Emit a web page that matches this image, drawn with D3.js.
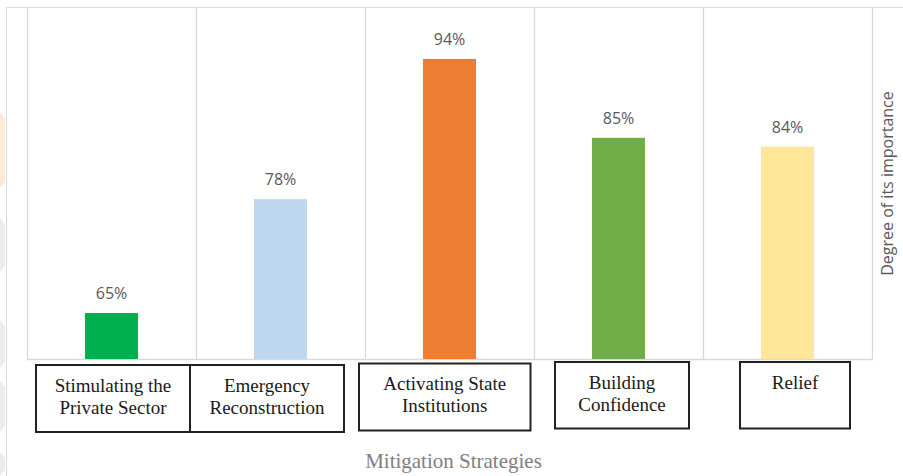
<!DOCTYPE html>
<html>
<head>
<meta charset="utf-8">
<script src="https://cdn.jsdelivr.net/npm/d3@7"></script>
<style>
  html, body { margin: 0; padding: 0; background: #fff; }
  svg { display: block; }
</style>
</head>
<body>
<svg id="chart" width="903" height="476"></svg>
<script>
// ---- data ----
const categories = ["Stimulating the Private Sector", "Emergency Reconstruction", "Activating State Institutions", "Building Confidence", "Relief"];
const categoryLines = [["Stimulating the", "Private Sector"], ["Emergency", "Reconstruction"], ["Activating State", "Institutions"], ["Building", "Confidence"], ["Relief"]];
const values = [65, 78, 94, 85, 84];
const valueLabels = ["65%", "78%", "94%", "85%", "84%"];
const barColors = ["#00B050", "#BDD7EE", "#ED7D31", "#70AD47", "#FFE699"];
const xTitle = "Mitigation Strategies";
const yTitle = "Degree of its importance";

// ---- layout ----
const plot = { left: 27, right: 872, top: 7, bottom: 359 };
const boxes = [
  { x0: 36, x1: 190, y0: 365, y1: 432, base: 392 },
  { x0: 190, x1: 344, y0: 365, y1: 432, base: 392 },
  { x0: 359, x1: 530.5, y0: 363.5, y1: 430.5, base: 390 },
  { x0: 555, x1: 689, y0: 362, y1: 428.5, base: 389.3 },
  { x0: 740, x1: 850, y0: 362, y1: 428.5, base: 389.3 }
];

const svg = d3.select("#chart");

// faint watermark shapes on the far left
const wm = svg.append("g");
wm.append("path").attr("d", "M0,112 L5,118 L5,182 L0,188 Z").attr("fill", "#fde9d6");
[[218, 272], [320, 368], [381, 432], [452, 476]].forEach(([a, b]) => {
  wm.append("path").attr("d", `M0,${a} L5,${a + 6} L5,${b - 6} L0,${b} Z`).attr("fill", "#ececec");
});

// outer chart border
svg.append("rect").attr("x", 6.5).attr("y", 7.5).attr("width", 1000).attr("height", 1000)
  .attr("fill", "none").attr("stroke", "#d9d9d9").attr("stroke-width", 1);

const x = d3.scaleBand().domain(categories).range([plot.left, plot.right])
  .paddingInner(0.686).paddingOuter(0.343);
const y = d3.scaleLinear().domain([59.75, 100]).range([plot.bottom, 6.4]);

// vertical gridlines at category boundaries
const step = x.step();
const bounds = d3.range(categories.length + 1).map(i => plot.left + i * step);
svg.append("g").selectAll("line").data(bounds).join("line")
  .attr("x1", d => Math.round(d) + 0.5).attr("x2", d => Math.round(d) + 0.5)
  .attr("y1", plot.top + 1).attr("y2", plot.bottom)
  .attr("stroke", "#d9d9d9").attr("stroke-width", 1.3);
// baseline
svg.append("line").attr("x1", plot.left).attr("x2", plot.right + 1)
  .attr("y1", plot.bottom + 0.5).attr("y2", plot.bottom + 0.5)
  .attr("stroke", "#d9d9d9").attr("stroke-width", 1.3);

// bars
svg.append("g").selectAll("rect").data(values).join("rect")
  .attr("x", (d, i) => x(categories[i]))
  .attr("width", x.bandwidth())
  .attr("y", d => y(d))
  .attr("height", d => plot.bottom - y(d))
  .attr("fill", (d, i) => barColors[i]);

// value labels
svg.append("g").selectAll("text").data(values).join("text")
  .attr("x", (d, i) => x(categories[i]) + x.bandwidth() / 2)
  .attr("y", d => y(d) - 14)
  .attr("text-anchor", "middle")
  .attr("font-family", "'Open Sans', sans-serif")
  .attr("font-size", 16)
  .attr("fill", "#595959")
  .text((d, i) => valueLabels[i]);

// category boxes
const bg = svg.append("g");
boxes.forEach((b, i) => {
  bg.append("rect").attr("x", b.x0).attr("y", b.y0).attr("width", b.x1 - b.x0).attr("height", b.y1 - b.y0)
    .attr("fill", "#fff").attr("stroke", "#222").attr("stroke-width", 2);
  const t = bg.append("text")
    .attr("text-anchor", "middle")
    .attr("font-family", "'Liberation Serif', 'Times New Roman', serif")
    .attr("font-size", 19)
    .attr("fill", "#1a1a1a");
  categoryLines[i].forEach((ln, j) => {
    t.append("tspan").attr("x", (b.x0 + b.x1) / 2).attr("y", b.base + j * 21.6).text(ln);
  });
});

// axis titles
svg.append("text").attr("x", 453.5).attr("y", 468)
  .attr("text-anchor", "middle")
  .attr("font-family", "'Liberation Serif', 'Times New Roman', serif")
  .attr("font-size", 21).attr("fill", "#808080")
  .text(xTitle);

svg.append("text")
  .attr("transform", "translate(893,183.5) rotate(-90)")
  .attr("text-anchor", "middle")
  .attr("font-family", "'Open Sans', sans-serif")
  .attr("font-size", 16).attr("fill", "#595959")
  .text(yTitle);
</script>
</body>
</html>
